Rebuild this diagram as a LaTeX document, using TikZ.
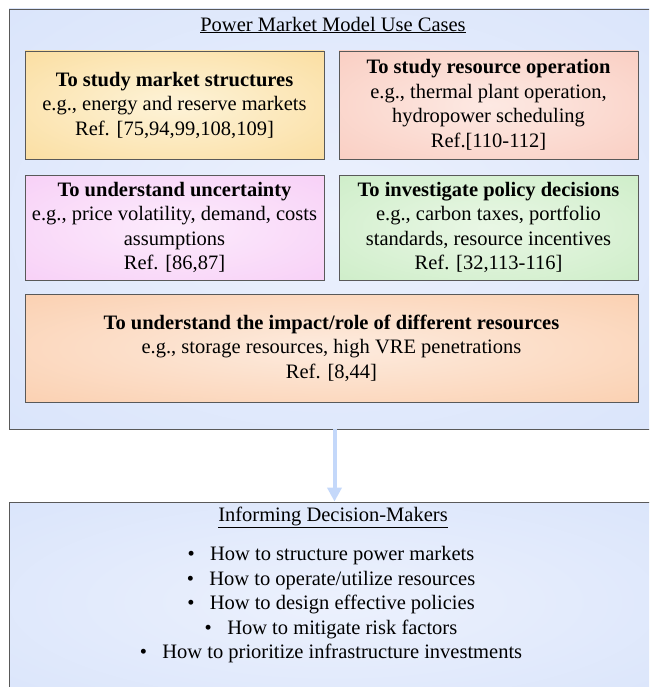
\documentclass[tikz,border=0pt]{standalone}
\usepackage{fontspec}
\setmainfont{Liberation Serif}
\usetikzlibrary{arrows.meta}

\makeatletter
\pgfdeclareradialshading[tikz@radial@inner,tikz@radial@outer]{softglow}{\pgfpoint{0bp}{0bp}}{color(0bp)=(tikz@radial@inner); color(50bp)=(tikz@radial@outer)}
\makeatother

\definecolor{frameout}{RGB}{211,224,250}
\definecolor{framein}{RGB}{236,241,253}
\definecolor{mktout}{RGB}{250,214,140}
\definecolor{mktin}{RGB}{253,243,216}
\definecolor{opout}{RGB}{248,196,182}
\definecolor{opin}{RGB}{253,233,227}
\definecolor{uncout}{RGB}{246,198,245}
\definecolor{uncin}{RGB}{252,235,252}
\definecolor{polout}{RGB}{196,234,190}
\definecolor{polin}{RGB}{233,247,229}
\definecolor{resout}{RGB}{250,198,160}
\definecolor{resin}{RGB}{253,235,222}
\definecolor{arrowblue}{RGB}{196,216,250}

\tikzset{
  glow/.style 2 args={inner color=#1, outer color=#2, shading=softglow},
  txt/.style={font=\fontsize{20.5}{24.5}\selectfont, align=center},
  frame/.style={draw=black!65, line width=0.8pt, inner sep=0pt, glow={framein}{frameout}},
  casebox/.style={txt, draw=black!65, line width=0.8pt, inner sep=0pt, minimum width=299pt, minimum height=108pt},
  flow/.style={line width=4pt, arrowblue, -{Triangle[width=14pt,length=14pt]}}
}

\begin{document}
\begin{tikzpicture}[x=1pt,y=-1pt]
		%%%%% START %%%%%
		\useasboundingbox (0,0) rectangle (649,687);
		\clip (0,0) rectangle (649,687);
		
		% use cases
		\node[frame, minimum width=651pt, minimum height=420pt] (cases) at (334.5,219) {};
		\node[txt] (casestitle) at (333,25) {\underline{Power Market Model Use Cases}};
		
		\node[casebox, glow={mktin}{mktout}] (market) at (174.5,105) {\textbf{To study market structures}\\e.g., energy and reserve markets\\Ref. [75,94,99,108,109]};
		\node[casebox, glow={opin}{opout}] (operation) at (488.5,105) {\textbf{To study resource operation}\\e.g., thermal plant operation,\\hydropower scheduling\\Ref.[110-112]};
		
		\node[casebox, minimum height=105pt, glow={uncin}{uncout}] (uncertainty) at (174.5,227.5) {\textbf{To understand uncertainty}\\e.g., price volatility, demand, costs\\assumptions\\Ref. [86,87]};
		\node[casebox, minimum height=105pt, glow={polin}{polout}] (policy) at (488.5,227.5) {\textbf{To investigate policy decisions}\\e.g., carbon taxes, portfolio\\standards, resource incentives\\Ref. [32,113-116]};
		
		\node[casebox, minimum width=613pt, glow={resin}{resout}] (resources) at (331.5,348) {\textbf{To understand the impact/role of different resources}\\e.g., storage resources, high VRE penetrations\\Ref. [8,44]};
		
		% decision makers
		\node[frame, minimum width=651pt, minimum height=200pt] (decide) at (334.5,602) {};
		\node[txt] (decidetitle) at (333,517) {\underline{Informing Decision-Makers}};
		\node[txt] (questions) at (331,605) {\textbullet\hspace{0.75em}How to structure power markets\\
			\textbullet\hspace{0.75em}How to operate/utilize resources\\
			\textbullet\hspace{0.75em}How to design effective policies\\
			\textbullet\hspace{0.75em}How to mitigate risk factors\\
			\textbullet\hspace{0.75em}How to prioritize infrastructure investments};
		
		\draw[flow] (cases) -- (decide);
		
		%%%%% END %%%%%
\end{tikzpicture}
\end{document}
